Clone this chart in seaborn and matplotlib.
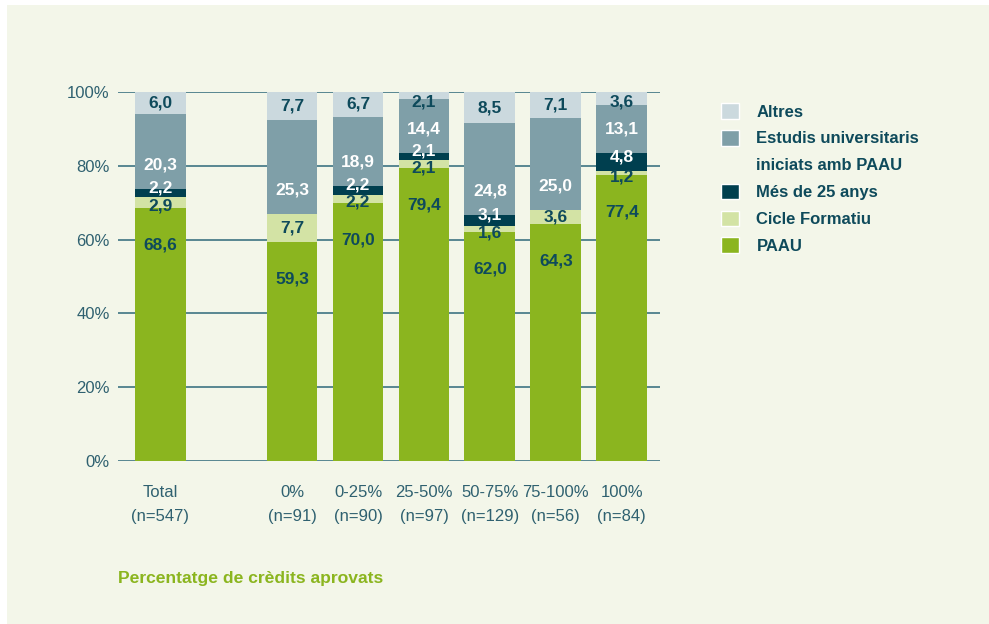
import pandas as pd
import matplotlib.pyplot as plt
from matplotlib.patches import Patch, Rectangle
import seaborn as sns

# Dades del gràfic (percentatges per via d'accés)
categories = ["Total\n(n=547)", "0%\n(n=91)", "0-25%\n(n=90)", "25-50%\n(n=97)",
              "50-75%\n(n=129)", "75-100%\n(n=56)", "100%\n(n=84)"]
positions = [0, 2, 3, 4, 5, 6, 7]
paau = [68.6, 59.3, 70.0, 79.4, 62.0, 64.3, 77.4]
cicle = [2.9, 7.7, 2.2, 2.1, 1.6, 3.6, 1.2]
mes25 = [2.2, 0.0, 2.2, 2.1, 3.1, 0.0, 4.8]
estudis = [20.3, 25.3, 18.9, 14.4, 24.8, 25.0, 13.1]
altres = [6.0, 7.7, 6.7, 2.1, 8.5, 7.1, 3.6]

colors = ["#8bb51f", "#d3e3a5", "#003f4f", "#7f9fa8", "#cbd9de"]
text_colors = ["#0e4a5b", "#0e4a5b", "white", "white", "#0e4a5b"]

df = pd.DataFrame({"pos": positions, "PAAU": paau, "Cicle": cicle, "Mes25": mes25,
                   "Estudis": estudis, "Altres": altres})
cols = ["PAAU", "Cicle", "Mes25", "Estudis", "Altres"]
cum = df[cols].cumsum(axis=1)
bottoms = cum - df[cols]

sns.set_style("white")
plt.rcParams['font.family'] = ['Liberation Sans', 'DejaVu Sans']

fig = plt.figure(figsize=(9.89, 6.24), dpi=100)
fig.patch.set_facecolor("white")
fig.patches.append(Rectangle((7 / 989, 0), 1, 1 - 5 / 624, transform=fig.transFigure,
                             facecolor="#f3f6e9", edgecolor="none", zorder=-10))
ax = fig.add_axes([118 / 989, 1 - 461 / 624, (660 - 118) / 989, (461 - 92) / 624])
ax.set_facecolor("none")

# barres apilades: de dalt a baix, cada capa tapa l'anterior
plot_df = pd.DataFrame({"pos": positions})
for col, color in reversed(list(zip(cols, colors))):
    plot_df["y"] = cum[col].clip(upper=100)
    sns.barplot(data=plot_df, x="pos", y="y", native_scale=True, color=color,
                saturation=1, width=0.77, errorbar=None, ax=ax, zorder=2,
                linewidth=0, edgecolor="none")

# etiquetes de valors
for i, p in enumerate(positions):
    for j, col in enumerate(cols):
        v = df.loc[i, col]
        if v <= 0:
            continue
        b = bottoms.loc[i, col]
        top = cum.loc[i, col]
        mid = (b + top) / 2
        if col == "PAAU":
            y = top - 10
        elif col == "Cicle":
            y = mid - 1.0 if v < 3 else mid
        elif col == "Mes25":
            y = mid + 1.5
        elif col == "Estudis":
            y = min(b + 6.5, mid)
        else:
            y = min(mid, 97.3)
        ax.text(p, y, f"{v:.1f}".replace(".", ","), ha="center", va="center",
                fontsize=12.5, fontweight="bold", color=text_colors[j], zorder=5)

ax.set_xlim(-0.64, 7.58)
ax.set_ylim(0, 100)
ax.set_yticks([0, 20, 40, 60, 80, 100])
ax.set_yticklabels([f"{t}%" for t in [0, 20, 40, 60, 80, 100]])
ax.set_xticks(positions)
ax.set_xticklabels(categories, linespacing=1.75)
ax.tick_params(axis="both", length=0, labelsize=12, labelcolor="#2f6170")
ax.tick_params(axis="x", pad=17)
ax.tick_params(axis="y", pad=6)
ax.set_xlabel("")
ax.set_ylabel("")
ax.yaxis.grid(True, color="#3d7482", linewidth=1.2)
ax.set_axisbelow(True)
for s in ax.spines.values():
    s.set_visible(False)

fig.text(118 / 989, 1 - 578 / 624, "Percentatge de crèdits aprovats", ha="left",
         va="center", fontsize=12.6, fontweight="bold", color="#8bb51f")

# llegenda amb fila buida per a la segona línia
handles = [Patch(facecolor=colors[4]), Patch(facecolor=colors[3]),
           Patch(facecolor="none", edgecolor="none"), Patch(facecolor=colors[2]),
           Patch(facecolor=colors[1]), Patch(facecolor=colors[0])]
labels = ["Altres", "Estudis universitaris", "iniciats amb PAAU", "Més de 25 anys",
          "Cicle Formatiu", "PAAU"]
leg = fig.legend(handles, labels, loc="upper left", bbox_to_anchor=(721 / 989, 1 - 103 / 624),
                 frameon=False, borderpad=0, borderaxespad=0, handlelength=1.08,
                 handleheight=1.08, handletextpad=1.05, labelspacing=0.62,
                 prop={"size": 12, "weight": "bold"})
for t in leg.get_texts():
    t.set_color("#0e4a5b")

fig.savefig("out.png", dpi=100)
